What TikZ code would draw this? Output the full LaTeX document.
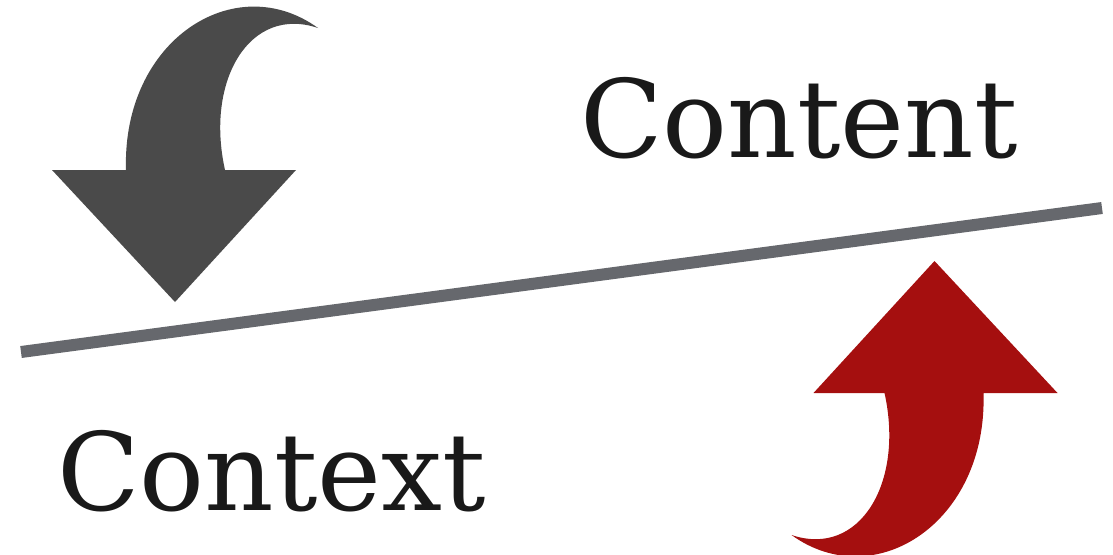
\documentclass[tikz,border=0pt]{standalone}
\usepackage{fontspec}
\setmainfont{DejaVu Serif}
\definecolor{arrowgray}{HTML}{4A4A4A}
\definecolor{arrowred}{HTML}{A50F0F}
\definecolor{linegray}{HTML}{66686D}
\tikzset{
  bigword/.style={anchor=base west, inner sep=0pt, font=\fontsize{108}{112}\selectfont, text=black!90},
  divider/.style={draw=linegray, line width=12pt},
}
\begin{document}
\begin{tikzpicture}[x=1pt,y=-1pt]
\useasboundingbox (0,0) rectangle (1113,554);
% curved arrows
\def\curvedarrow{(52,170) -- (126,170) .. controls (122,40) and (235,-32) .. (318,28)
  .. controls (250,5) and (205,80) .. (225,170) -- (296,170) -- (175,302) -- cycle}
\fill[arrowgray] \curvedarrow;
\begin{scope}[shift={(1109.5,563)}, xscale=-1, yscale=-1]
\fill[arrowred] \curvedarrow;
\end{scope}
% divider
\coordinate (lineA) at (21,352);
\coordinate (lineB) at (1102,208);
\draw[divider] (lineA) -- (lineB);
% words
\node[bigword] (content) at (580,157) {Content};
\node[bigword] (context) at (57,510) {Context};
\end{tikzpicture}
\end{document}
